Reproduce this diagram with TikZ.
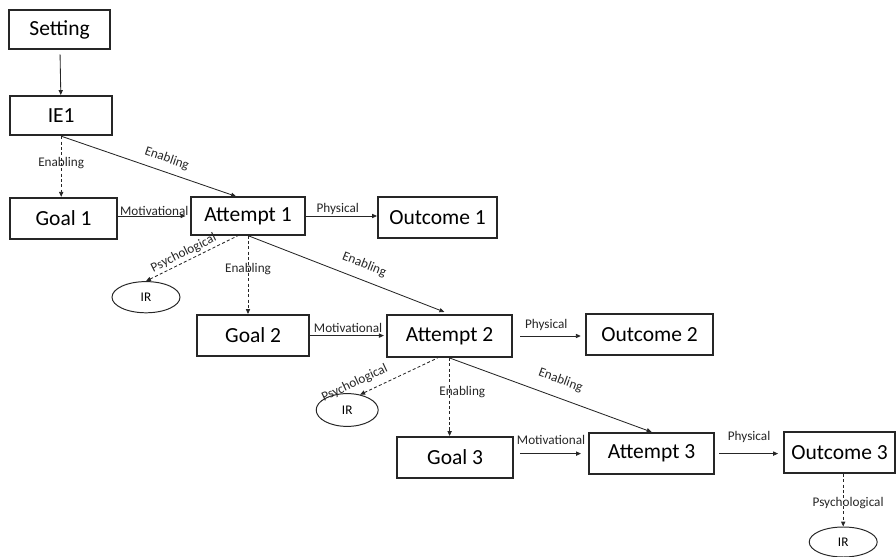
\documentclass[tikz,border=0pt]{standalone}
\usepackage{fontspec}
\setmainfont{Carlito}
\usepackage{tikz}
\usetikzlibrary{arrows.meta,shapes.geometric}
\tikzset{>/.tip={Triangle[length=3.5pt,width=3pt]}}
\tikzset{box/.style={draw, line width=1.4pt, inner sep=0pt, minimum height=1.03cm, font=\fontsize{15.3}{18}\selectfont},
  ir/.style={draw, ellipse, line width=0.7pt, inner sep=0pt, font=\fontsize{9.4}{11}\selectfont},
  lbl/.style={inner sep=1pt, text=black!85, font=\fontsize{9.4}{11}\selectfont},
  dsh/.style={dash pattern=on 2.2pt off 1.6pt}}

\begin{document}
\begin{tikzpicture}[line width=0.6pt, draw=black!85]
\useasboundingbox (0,0) rectangle (22.4,-13.925);
\node[box, minimum width=2.53cm, minimum height=0.98cm] (setting) at (1.49,-0.74) {Setting};
\node[box, minimum width=2.55cm, minimum height=0.98cm] (ie1) at (1.53,-2.89) {IE1};
\node[box, minimum width=2.68cm] (g1) at (1.59,-5.46) {Goal 1};
\node[box, minimum width=2.85cm, minimum height=0.95cm, line width=0.9pt] (a1) at (6.2,-5.4) {Attempt 1};
\node[box, minimum width=2.98cm] (o1) at (10.94,-5.44) {Outcome 1};
\node[ir, minimum width=1.7cm, minimum height=0.78cm] (ir1) at (3.65,-7.43) {IR};
\node[box, minimum width=2.8cm] (g2) at (6.33,-8.39) {Goal 2};
\node[box, minimum width=3.13cm, minimum height=1.05cm] (a2) at (11.24,-8.4) {Attempt 2};
\node[box, minimum width=3.18cm] (o2) at (16.24,-8.36) {Outcome 2};
\node[ir, minimum width=1.55cm, minimum height=0.82cm] (ir2) at (8.68,-10.25) {IR};
\node[box, minimum width=2.9cm] (g3) at (11.38,-11.44) {Goal 3};
\node[box, minimum width=3.13cm] (a3) at (16.29,-11.34) {Attempt 3};
\node[box, minimum width=2.78cm] (o3) at (20.99,-11.31) {Outcome 3};
\node[ir, minimum width=1.7cm, minimum height=0.75cm] (ir3) at (21.08,-13.55) {IR};

\draw[->, shorten <=3pt] (setting) -- (ie1);
\draw[->, dsh] (ie1.south) -- node[lbl, pos=0.45] {Enabling} (ie1.south |- g1.north);
\draw[->] (ie1.south) -- node[lbl, sloped, above=3.9pt, pos=0.58] {Enabling} ([xshift=-0.3cm]a1.north);
\draw[->, shorten >=3.5pt] (g1.east |- a1.west) -- node[lbl, above=-1pt] {Motivational} (a1.west);
\draw[->] (a1.east) -- node[lbl, above=0pt, pos=0.45] {Physical} (a1.east -| o1.west);
\draw[<-, dsh] (ir1.north) -- node[lbl, sloped, above=0.5pt, pos=0.45] {Psychological} ([xshift=-0.25cm]a1.south);
\draw[->, dsh] (a1.south) -- node[lbl, pos=0.43] {Enabling} (a1.south |- g2.north);
\draw[->, shorten >=4pt] (a1.south) -- node[lbl, sloped, above=5.3pt, pos=0.55] {Enabling} (a2.north);

\draw[->, shorten >=1.5pt] (g2.east) -- node[lbl, above=1pt] {Motivational} (g2.east -| a2.west);
\draw[->, shorten <=5pt, shorten >=3pt] (a2.east) -- node[lbl, above=2.5pt, pos=0.46] {Physical} (a2.east -| o2.west);
\draw[<-, dsh] (ir2.50) -- node[lbl, sloped, above=3.6pt, pos=0] {Psychological} ([xshift=-0.3cm]a2.south);
\draw[->, dsh] (a2.south) -- node[lbl, pos=0.44, xshift=9pt] {Enabling} (a2.south |- g3.north);
\draw[->] (a2.south) -- node[lbl, sloped, above=6.8pt, pos=0.52] {Enabling} (a3.north);

\draw[->, shorten <=4pt, shorten >=5pt] (g3.east |- a3.west) -- node[lbl, above=5.3pt] {Motivational} (a3.west);
\draw[->, shorten <=3pt, shorten >=3.5pt] (a3.east) -- node[lbl, above=6.8pt] {Physical} (a3.east -| o3.west);
\draw[->, dsh] (o3.south -| ir3.north) -- node[lbl, pos=0.56, xshift=3.5pt] {Psychological} (ir3.north);
\end{tikzpicture}
\end{document}
